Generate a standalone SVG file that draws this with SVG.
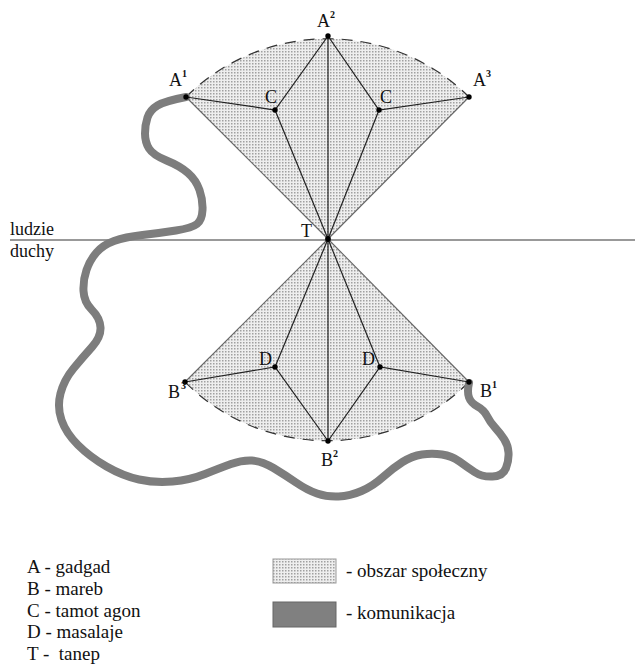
<svg xmlns="http://www.w3.org/2000/svg" width="635" height="666" viewBox="0 0 635 666">
<style>
.lbl{font-family:"Liberation Serif","Times New Roman",serif;font-size:18px;fill:#111}
.sup{font-family:"Liberation Serif","Times New Roman",serif;font-size:10px;fill:#111;font-weight:bold}
.leg{font-family:"Liberation Serif","Times New Roman",serif;font-size:19px;fill:#111}
.ray{stroke:#666;stroke-width:1.1;fill:none}
.edge{stroke:#222;stroke-width:1.2;fill:none}
.arc{stroke:#333;stroke-width:1.2;fill:none;stroke-dasharray:11 8}
.pt{fill:#000}
</style>
<defs>
<pattern id="dots" width="3" height="3" patternUnits="userSpaceOnUse">
<rect width="3" height="3" fill="#eeeeee"/>
<rect width="1.5" height="1.5" fill="#a0a0a0"/>
</pattern>
</defs>
<rect width="635" height="666" fill="#fff"/>
<g id="upper-area">
<path d="M328,239 L186,97 A201,201 0 0 1 469,97 Z" fill="url(#dots)" stroke="none"/>
<path class="arc" d="M186,97 A201,201 0 0 1 469,97"/>
</g>
<g id="lower-area">
<path d="M328,239 L469,382 A201,201 0 0 1 185,382 Z" fill="url(#dots)" stroke="none"/>
<path class="arc" d="M469,382 A201,201 0 0 1 185,382"/>
</g>
<g id="divider">
<line x1="10" y1="240" x2="635" y2="240" stroke="#777" stroke-width="1.5"/>
<text class="lbl" x="10" y="235">ludzie</text>
<text class="lbl" x="10" y="257">duchy</text>
</g>
<g id="connectors">
<path d="M186,97 Q165,101 157.5,105.5 Q150,110 147.5,117.5 Q145,125 145,133.5 Q145,142 149,148.5 Q153,155 166.5,160.5 Q180,166 188,173 Q196,180 199.5,190 Q203,200 202.5,210 Q202,220 197,224 Q192,228 176,230.5 Q160,233 142.5,235 Q125,237 114,241 Q103,245 96.5,252.5 Q90,260 86.5,270 Q83,280 83.5,291 Q84,302 92,310 Q100,318 100.5,327.5 Q101,337 92,347 Q83,357 73.5,368.5 Q64,380 60.5,393.5 Q57,407 61.5,420 Q66,433 78,445 Q90,457 106.5,466.5 Q123,476 139,479.5 Q155,483 172.5,481.5 Q190,480 205,474 Q220,468 231,464 Q242,460 252,460.5 Q262,461 273.5,468 Q285,475 296,482.5 Q307,490 317,493.5 Q327,497 338.5,496.5 Q350,496 361.5,491 Q373,486 383,477 Q393,468 402.5,462 Q412,456 422,454.5 Q432,453 442,454.5 Q452,456 459.5,461.5 Q467,467 474.5,472 Q482,477 492.5,476.5 Q503,476 506,468 Q509,460 508.5,452.5 Q508,445 504,439 Q500,433 495,427.5 Q490,422 487,416 Q484,410 477.5,406.5 Q471,403 469,397.5 Q467,392 469,383" fill="none" stroke="#7d7d7d" stroke-width="8" stroke-linecap="round" stroke-linejoin="round"/>
<line class="ray" x1="328" y1="239" x2="186" y2="97"/>
<line class="ray" x1="328" y1="239" x2="469" y2="97"/>
<line class="edge" x1="328" y1="239" x2="328" y2="36"/>
<polyline class="edge" points="186,97 275,110 328,36"/>
<line class="edge" x1="275" y1="110" x2="328" y2="239"/>
<polyline class="edge" points="469,97 379,110 328,36"/>
<line class="edge" x1="379" y1="110" x2="328" y2="239"/>
<line class="ray" x1="328" y1="239" x2="185" y2="382"/>
<line class="ray" x1="328" y1="239" x2="469" y2="382"/>
<line class="edge" x1="328" y1="239" x2="328" y2="441"/>
<polyline class="edge" points="185,382 275,367 328,441"/>
<line class="edge" x1="275" y1="367" x2="328" y2="239"/>
<polyline class="edge" points="469,382 380,367 328,441"/>
<line class="edge" x1="380" y1="367" x2="328" y2="239"/>
</g>
<g id="node-A1"><circle class="pt" cx="186" cy="97" r="2.7"/><text class="lbl" x="169" y="86">A</text><text class="sup" x="182" y="77">1</text></g>
<g id="node-A2"><circle class="pt" cx="328" cy="36" r="2.7"/><text class="lbl" x="317" y="27">A</text><text class="sup" x="330" y="18">2</text></g>
<g id="node-A3"><circle class="pt" cx="469" cy="97" r="2.7"/><text class="lbl" x="473" y="86">A</text><text class="sup" x="486" y="77">3</text></g>
<g id="node-C1"><circle class="pt" cx="275" cy="110" r="2.7"/><text class="lbl" x="265" y="103">C</text></g>
<g id="node-C2"><circle class="pt" cx="379" cy="110" r="2.7"/><text class="lbl" x="380" y="103">C</text></g>
<g id="node-T"><circle class="pt" cx="328" cy="239" r="2.9"/><text class="lbl" x="301" y="237">T</text></g>
<g id="node-D1"><circle class="pt" cx="275" cy="367" r="2.7"/><text class="lbl" x="259" y="365">D</text></g>
<g id="node-D2"><circle class="pt" cx="380" cy="367" r="2.7"/><text class="lbl" x="362" y="365">D</text></g>
<g id="node-B3"><circle class="pt" cx="185" cy="382" r="2.7"/><text class="lbl" x="168" y="398">B</text><text class="sup" x="181" y="389">3</text></g>
<g id="node-B2"><circle class="pt" cx="328" cy="441" r="2.7"/><text class="lbl" x="321" y="466">B</text><text class="sup" x="333" y="457">2</text></g>
<g id="node-B1"><circle class="pt" cx="469" cy="382" r="2.7"/><text class="lbl" x="480" y="397">B</text><text class="sup" x="492" y="388">1</text></g>
<g id="legend">
<text class="leg" x="27" y="573">A - gadgad</text>
<text class="leg" x="27" y="595">B - mareb</text>
<text class="leg" x="27" y="617">C - tamot agon</text>
<text class="leg" x="27" y="638">D - masalaje</text>
<text class="leg" x="27" y="660">T -&#160; tanep</text>
<rect x="273" y="559" width="63" height="24" fill="url(#dots)" stroke="#999" stroke-width="1"/>
<text class="leg" x="346" y="577">- obszar społeczny</text>
<rect x="273" y="602" width="63" height="25" fill="#808080" stroke="#666" stroke-width="1"/>
<text class="leg" x="346" y="619">- komunikacja</text>
</g>
</svg>
